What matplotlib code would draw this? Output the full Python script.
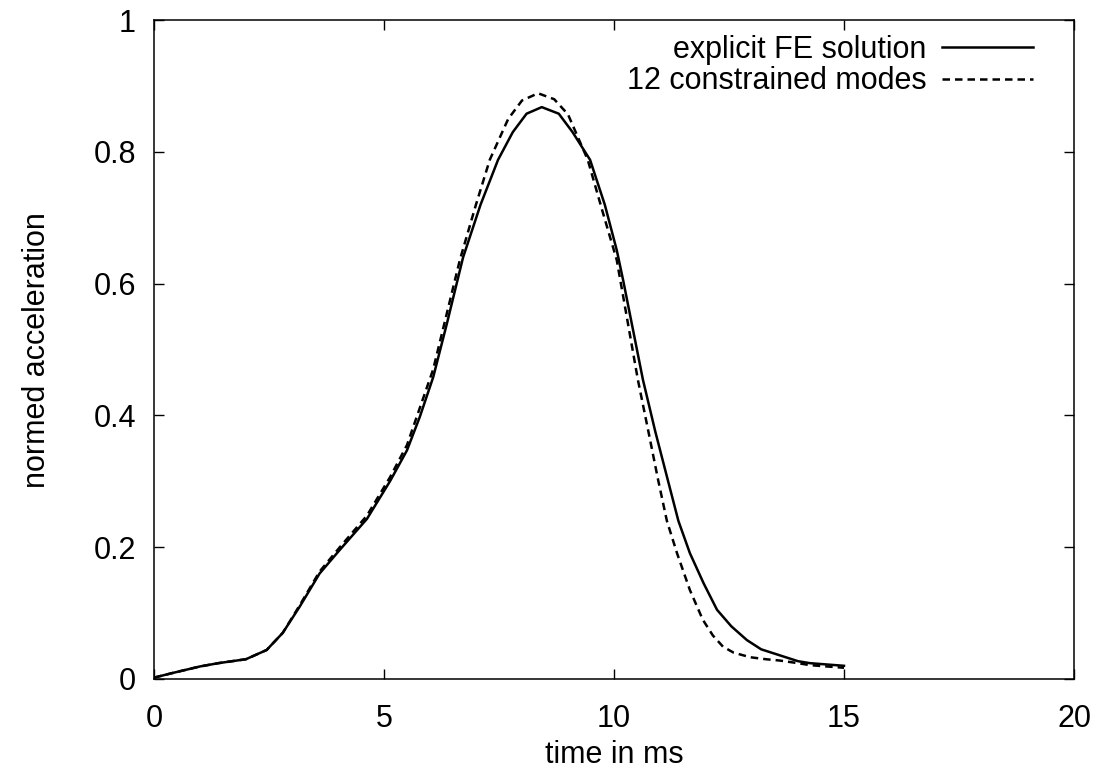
import matplotlib
matplotlib.use("Agg")
import matplotlib.pyplot as plt
from matplotlib.ticker import FuncFormatter

plt.rcParams["font.family"] = ["Liberation Sans", "DejaVu Sans"]

# explicit FE solution
fe_time = [0.0, 0.4, 1.0, 1.4, 2.0, 2.45, 2.8, 3.17, 3.6, 4.04, 4.63, 5.13,
           5.5, 5.78, 6.07, 6.37, 6.72, 7.1, 7.48, 7.8, 8.1, 8.43, 8.8, 9.1,
           9.48, 9.8, 10.06, 10.2, 10.63, 10.9, 11.17, 11.4, 11.65, 11.95,
           12.24, 12.55, 12.89, 13.2, 13.6, 14.0, 14.26, 15.0]
fe_acc = [0.002, 0.009, 0.019, 0.024, 0.030, 0.044, 0.070, 0.110, 0.160,
          0.196, 0.243, 0.300, 0.347, 0.398, 0.458, 0.540, 0.640, 0.720,
          0.788, 0.830, 0.858, 0.868, 0.858, 0.830, 0.788, 0.720, 0.651,
          0.605, 0.454, 0.375, 0.302, 0.240, 0.191, 0.145, 0.105, 0.080,
          0.059, 0.045, 0.036, 0.027, 0.024, 0.020]

# 12 constrained modes
cm_time = [0.0, 0.4, 1.0, 1.4, 2.0, 2.45, 2.8, 3.17, 3.6, 4.04, 4.63, 5.13,
           5.5, 6.07, 6.65, 7.0, 7.3, 7.7, 8.0, 8.35, 8.7, 9.0, 9.43, 9.75,
           10.06, 10.52, 10.75, 10.96, 11.15, 11.37, 11.65, 11.93, 12.15,
           12.37, 12.6, 12.96, 13.3, 13.6, 14.0, 14.26, 15.0]
cm_acc = [0.002, 0.009, 0.019, 0.024, 0.030, 0.044, 0.070, 0.112, 0.163,
          0.200, 0.248, 0.306, 0.355, 0.470, 0.636, 0.720, 0.788, 0.850,
          0.878, 0.889, 0.880, 0.857, 0.788, 0.710, 0.636, 0.454, 0.375,
          0.302, 0.240, 0.191, 0.135, 0.090, 0.066, 0.049, 0.040, 0.033,
          0.030, 0.028, 0.024, 0.021, 0.017]

x_ticks = [0, 5, 10, 15, 20]
y_ticks = [0, 0.2, 0.4, 0.6, 0.8, 1.0]

fig = plt.figure(figsize=(11.02, 7.75), dpi=100)
ax = fig.add_axes([0.1397, 0.1239, 0.8349, 0.8501])

ax.plot(fe_time, fe_acc, color="black", linewidth=1.8,
        solid_joinstyle="round", label="explicit FE solution")
ax.plot(cm_time, cm_acc, color="black", linewidth=1.8, dashes=(3, 2),
        label="12 constrained modes")

ax.set_xlim(0, 20)
ax.set_ylim(0, 1)
ax.set_xticks(x_ticks)
ax.set_yticks(y_ticks)
ax.yaxis.set_major_formatter(FuncFormatter(lambda v, _: f"{v:g}"))
ax.tick_params(direction="in", length=7, width=1, labelsize=22,
               top=True, right=True)
ax.tick_params(axis="x", pad=18)
ax.tick_params(axis="y", pad=13)
for spine in ax.spines.values():
    spine.set_linewidth(1.1)

ax.set_xlabel("time in ms", fontsize=22, labelpad=4)
ax.set_ylabel("normed acceleration", fontsize=22, labelpad=30)

ax.legend(loc="upper right", frameon=False, markerfirst=False, fontsize=22,
          handlelength=3.0, handletextpad=0.5, labelspacing=0.05,
          borderaxespad=0.3, bbox_to_anchor=(0.979, 1.01))

fig.savefig("out.png", dpi=100)
